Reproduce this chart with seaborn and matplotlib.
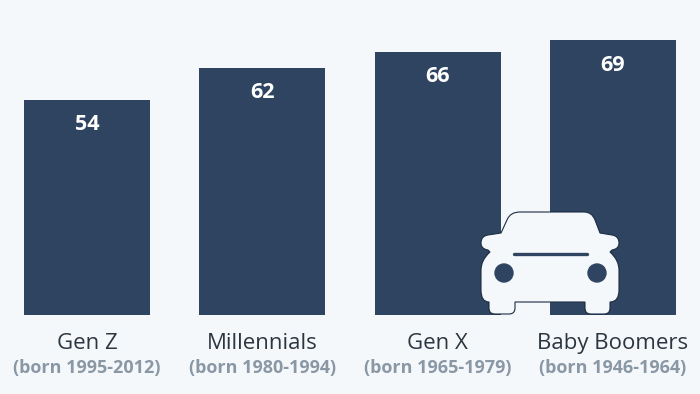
import matplotlib
matplotlib.use('Agg')
import matplotlib.pyplot as plt
import seaborn as sns
import pandas as pd
from matplotlib.path import Path
from matplotlib.patches import PathPatch, Circle

generations = ['Gen Z', 'Millennials', 'Gen X', 'Baby Boomers']
born = ['(born 1995-2012)', '(born 1980-1994)', '(born 1965-1979)', '(born 1946-1964)']
values = [54, 62, 66, 69]

navy = '#2e4460'
bg = '#f5f8fb'

sns.set_theme(style='white')
plt.rcParams['font.family'] = ['Open Sans', 'DejaVu Sans']

df = pd.DataFrame({'generation': generations, 'value': values})

fig = plt.figure(figsize=(7, 3.94), dpi=100, facecolor=bg)
# bars area, baseline at y=315px
ax = fig.add_axes([0, (394 - 315) / 394, 1, 315 / 394])
ax.set_facecolor(bg)
sns.barplot(data=df, x='generation', y='value', color=navy, saturation=1, width=0.72,
            linewidth=0, ax=ax)
ax.set_xlim(-87 / 175.33, (700 - 87) / 175.33)
ax.set_ylim(0, 315 / 3.985)
sns.despine(ax=ax, left=True, bottom=True)
ax.set_xlabel('')
ax.set_ylabel('')
ax.set_yticks([])
ax.tick_params(axis='x', length=0, pad=13)
ax.set_xticks(range(4))
ax.set_xticklabels(generations, fontsize=16, color='#2b3640')

for i, v in enumerate(values):
    ax.annotate(str(v), (i, v), xytext=(0, -18), textcoords='offset points', ha='center', va='center',
                color='white', fontsize=15.5, fontweight='bold')
    ax.annotate(born[i], (i, 0), xytext=(0, -38), textcoords='offset points', ha='center', va='center',
                color='#8a98a6', fontsize=13, fontweight='bold', annotation_clip=False)

# car icon, overlay in pixel coordinates
ic = fig.add_axes([0, 0, 1, 1])
ic.set_xlim(0, 700)
ic.set_ylim(394, 0)
ic.axis('off')
ic.patch.set_alpha(0)

M, L, Q, Z = Path.MOVETO, Path.LINETO, Path.CURVE3, Path.CLOSEPOLY
car = [
    (M, (520, 212)), (L, (584, 212)), (Q, (592, 212)), (Q, (595, 220)),
    (L, (600, 233)), (L, (612, 235)), (Q, (619, 236)), (Q, (619, 243)),
    (Q, (619, 249)), (Q, (612, 250)), (L, (610, 252)), (Q, (619, 260)), (Q, (619, 270)),
    (L, (619, 290)), (Q, (619, 302)), (Q, (610, 302)),
    (L, (610, 308)), (Q, (610, 314)), (Q, (604, 314)), (L, (591, 314)), (Q, (585, 314)), (Q, (585, 308)),
    (L, (585, 302)), (L, (515, 302)), (L, (515, 308)), (Q, (515, 314)), (Q, (509, 314)),
    (L, (495, 314)), (Q, (489, 314)), (Q, (489, 308)), (L, (489, 302)),
    (Q, (481, 302)), (Q, (481, 290)), (L, (481, 270)), (Q, (481, 260)), (Q, (490, 252)),
    (L, (488, 250)), (Q, (481, 249)), (Q, (481, 243)), (Q, (481, 236)), (Q, (488, 235)),
    (L, (501, 233)), (L, (507, 220)), (Q, (510, 212)), (Q, (520, 212)), (Z, (520, 212)),
]
codes = [c for c, p in car]
verts = [p for c, p in car]
ic.add_patch(PathPatch(Path(verts, codes), facecolor=bg, edgecolor='#1c2c42', lw=0.8))
ic.plot([514, 587], [253.5, 253.5], color=navy, lw=2.4, solid_capstyle='round')
ic.add_patch(Circle((504, 273), 9, color=navy))
ic.add_patch(Circle((597, 273), 9, color=navy))

fig.savefig('out.png', dpi=100, facecolor=bg)
